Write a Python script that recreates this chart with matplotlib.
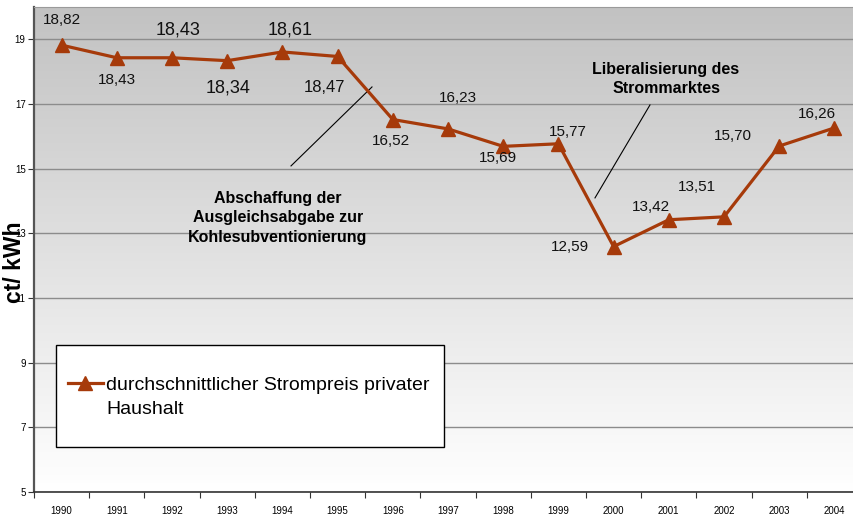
import numpy as np
import matplotlib
matplotlib.use("Agg")
import matplotlib.pyplot as plt
from matplotlib.patches import Rectangle

plt.rcParams['font.family'] = ['Liberation Sans', 'DejaVu Sans']

# data
years = ["1990", "1991", "1992", "1993", "1994", "1995", "1996", "1997",
         "1998", "1999", "2000", "2001", "2002", "2003", "2004"]
prices = [18.82, 18.43, 18.43, 18.34, 18.61, 18.47, 16.52, 16.23,
          15.69, 15.77, 12.59, 13.42, 13.51, 15.70, 16.26]
series_name = "durchschnittlicher Strompreis privater\nHaushalt"

# label offsets (pixels) and font sizes, per point
label_offsets = [(0, 25), (0, -22), (6, 28), (1, -27), (8, 22), (-13, -31),
                 (-2, -21), (10, 31), (-5, -12), (9, 12), (-44, 0), (-18, 13),
                 (-27, 30), (-46, 10), (-17, 14)]
label_sizes = [11, 11, 13, 13, 13, 12, 11, 11, 11, 11, 11, 11, 11, 11, 11]

line_color = "#A63A0A"

fig = plt.figure(figsize=(8.54, 5.16), dpi=100)
ax = fig.add_axes([34 / 854, 24 / 516, 828 / 854, 485 / 516])

x = np.arange(len(years))
ax.set_xlim(-0.5, len(years) - 0.5)
ax.set_ylim(5, 20)

# background gradient
grad = np.linspace(0, 1, 256).reshape(-1, 1)
cmap = matplotlib.colors.LinearSegmentedColormap.from_list("bg", ["#ffffff", "#c2c2c2"])
ax.imshow(grad, extent=(-0.5, len(years) - 0.5, 5, 20), origin="lower",
          aspect="auto", cmap=cmap, zorder=0)

# grid
ax.set_yticks(np.arange(5, 20, 2))
ax.yaxis.grid(True, color="#8c8c8c", linewidth=1, zorder=1)
ax.set_axisbelow(True)

ax.plot(x, prices, color=line_color, linewidth=2.3, marker="^",
        markersize=10, zorder=3)

for i, v in enumerate(prices):
    dx, dy = label_offsets[i]
    ax.annotate(f"{v:.2f}".replace(".", ","), (x[i], v), xytext=(dx, dy),
                textcoords="offset pixels", ha="center", va="center",
                fontsize=label_sizes[i], color="#111111", zorder=4)

# annotations
ax.plot([4.156, 5.623], [15.085, 17.527], color="black", linewidth=0.8, zorder=2)
ax.text(3.92, 13.48, "Abschaffung der\nAusgleichsabgabe zur\nKohlesubventionierung",
        ha="center", va="center", fontsize=11.5, fontweight="bold", linespacing=1.35)
ax.plot([9.663, 10.659], [14.096, 16.971], color="black", linewidth=0.8, zorder=2)
ax.text(10.95, 17.77, "Liberalisierung des\nStrommarktes",
        ha="center", va="center", fontsize=11.5, fontweight="bold", linespacing=1.35)

# axes styling
ax.set_xticks(np.arange(-0.5, len(years), 1))
ax.set_xticklabels([])
ax.set_xticks(x, minor=True)
ax.set_xticklabels(years, minor=True, fontsize=7)
ax.tick_params(axis="x", which="major", length=4, color="#333333")
ax.tick_params(axis="x", which="minor", length=0, pad=10)
ax.tick_params(axis="y", length=4, labelsize=7, pad=2, color="#333333")

ax.spines["left"].set_color("#555555")
ax.spines["left"].set_linewidth(1.6)
ax.spines["bottom"].set_color("#333333")
ax.spines["bottom"].set_linewidth(1.2)
ax.spines["top"].set_color("#9a9a9a")
ax.spines["right"].set_visible(False)

fig.text(15 / 854, 1 - 262 / 516, "ct/ kWh", rotation=90, ha="center",
         va="center", fontsize=16.5, fontweight="bold")

# legend box, drawn by hand so the two-line label keeps its spacing
ax.add_patch(Rectangle((56 / 854, 1 - 447 / 516), 388 / 854, 102 / 516,
                       transform=fig.transFigure, facecolor="white",
                       edgecolor="black", linewidth=1, zorder=5, clip_on=False))
ax.plot([68 / 854, 103 / 854], [1 - 383 / 516] * 2, color=line_color,
        linewidth=2.3, transform=fig.transFigure, clip_on=False, zorder=6)
ax.plot([85.5 / 854], [1 - 383 / 516], color=line_color, marker="^",
        markersize=10, transform=fig.transFigure, clip_on=False, zorder=6)
ax.text(106 / 854, 1 - 397.5 / 516, series_name, transform=fig.transFigure,
        ha="left", va="center", fontsize=14, linespacing=1.5, zorder=7)

fig.savefig("out.png", dpi=100)
plt.close(fig)
